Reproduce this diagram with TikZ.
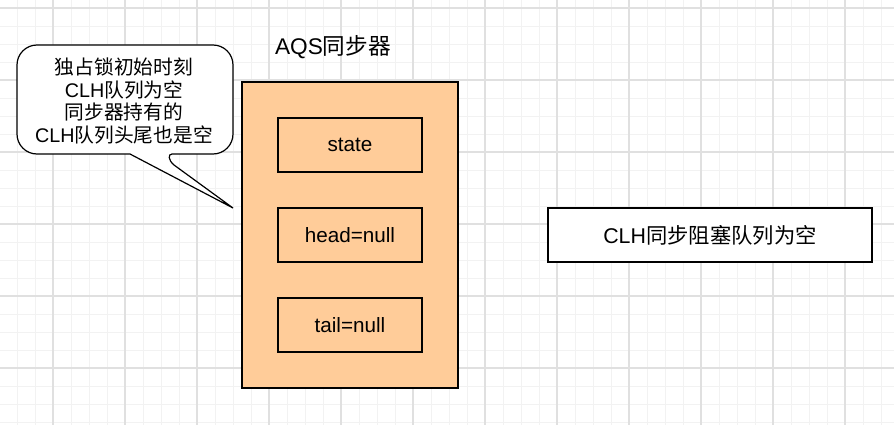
\documentclass[tikz,border=0pt]{standalone}
\usepackage{fontspec}
\setmainfont{Liberation Sans}
\newfontfamily\cjk{Noto Sans CJK SC}
\newcommand{\zh}[1]{{\cjk #1}}
\definecolor{aqsfill}{HTML}{FFCC99}
\definecolor{gridminor}{HTML}{F2F2F2}
\definecolor{gridmajor}{HTML}{E0E0E0}
\tikzset{
  minorline/.style={gridminor, line width=0.7pt},
  majorline/.style={gridmajor, line width=0.8pt},
  aqsbox/.style={draw, line width=0.9pt, fill=aqsfill, minimum width=162pt, minimum height=229.5pt, inner sep=0pt},
  field/.style={draw, line width=0.9pt, fill=aqsfill, minimum width=108pt, minimum height=40.5pt, inner sep=0pt, font=\fontsize{15.5}{18}\selectfont},
  queuebox/.style={draw, line width=0.9pt, fill=white, minimum width=243pt, minimum height=40.5pt, inner sep=0pt, font=\fontsize{16}{18}\selectfont},
  notetext/.style={align=center, inner sep=0pt, font=\fontsize{14.8}{17.2}\selectfont}
}
\begin{document}
\begin{tikzpicture}[x=0.75pt,y=0.75pt,yscale=-1,xscale=1]
\useasboundingbox (0,0) rectangle (894,425);
\fill[white] (0,0) rectangle (894,425);

%Grid
\foreach \x in {17,35,...,893} \draw[minorline] (\x,0) -- (\x,425);
\foreach \y in {8,26,...,425} \draw[minorline] (0,\y) -- (894,\y);
\foreach \x in {53,125,...,893} \draw[majorline] (\x,0) -- (\x,425);
\foreach \y in {8,80,...,425} \draw[majorline] (0,\y) -- (894,\y);

%Shape: Callout
\draw[line width=0.9pt, fill=white] (233,208) -- (174,165) .. controls (168,160) and (168,154) .. (172,154)
  [rounded corners=15] -- (233,154) -- (233,45) -- (17,45) -- (17,154) [sharp corners] -- (130,154) -- cycle;

% Text Node
\node[notetext] (note) at (124,101) {\zh{独占锁初始时刻}\\CLH\zh{队列为空}\\\zh{同步器持有的}\\CLH\zh{队列头尾也是空}};
% Text Node
\node[inner sep=0pt, font=\fontsize{17}{19}\selectfont] (title) at (333,47) {AQS\zh{同步器}};

%Shape: AQS box
\node[aqsbox] (aqs) at (350,235) {};
\node[field] (state) at (350,145) {state};
\node[field] (head) at (350,235) {head=null};
\node[field] (tail) at (350,325) {tail=null};

%Shape: CLH queue
\node[queuebox] (clh) at (710,235) {CLH\zh{同步阻塞队列为空}};

\end{tikzpicture}
\end{document}
